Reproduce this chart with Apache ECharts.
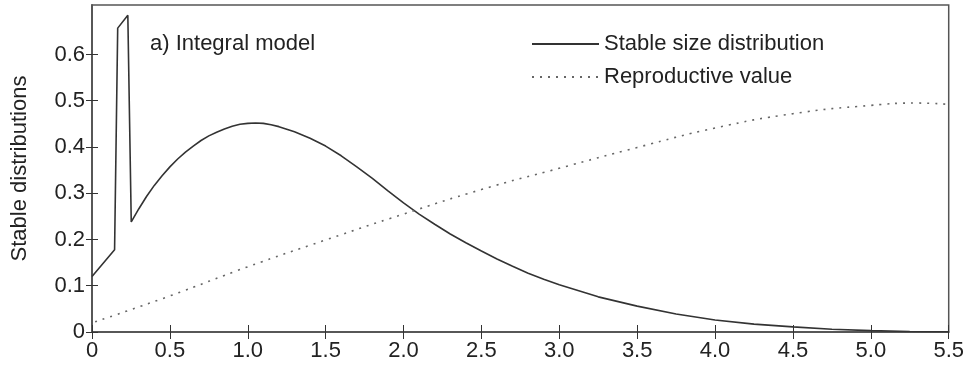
<!DOCTYPE html>
<html><head><meta charset="utf-8">
<script src="https://cdn.jsdelivr.net/npm/echarts@6/dist/echarts.min.js"></script>
<style>html,body{margin:0;padding:0;background:#fff}#c{width:967px;height:365px}</style>
</head><body><div id="c"></div>
<script>
// Stable size distribution (solid)
var sizeX = [0, 0.145, 0.165, 0.23, 0.252, 0.3, 0.35, 0.4, 0.45, 0.5, 0.55, 0.6, 0.65, 0.7, 0.75, 0.8, 0.85, 0.9, 0.95, 1.0, 1.05, 1.1, 1.15, 1.2, 1.3, 1.4, 1.5, 1.6, 1.7, 1.8, 1.9, 2.0, 2.1, 2.2, 2.3, 2.4, 2.5, 2.6, 2.7, 2.8, 2.9, 3.0, 3.25, 3.5, 3.75, 4.0, 4.25, 4.5, 4.75, 5.0, 5.25, 5.5];
var sizeY = [0.12, 0.178, 0.657, 0.685, 0.238, 0.266, 0.293, 0.317, 0.338, 0.357, 0.374, 0.389, 0.402, 0.414, 0.424, 0.432, 0.439, 0.445, 0.449, 0.451, 0.452, 0.451, 0.448, 0.444, 0.433, 0.419, 0.402, 0.381, 0.357, 0.332, 0.305, 0.279, 0.255, 0.233, 0.212, 0.193, 0.175, 0.158, 0.142, 0.127, 0.114, 0.102, 0.076, 0.056, 0.039, 0.026, 0.017, 0.011, 0.006, 0.003, 0.001, 0.0005];
// Reproductive value (dotted)
var reproX = [0.02, 0.5, 1.0, 1.5, 2.0, 2.5, 3.0, 3.5, 4.0, 4.5, 5.0, 5.3, 5.5];
var reproY = [0.022, 0.078, 0.141, 0.199, 0.255, 0.308, 0.354, 0.399, 0.441, 0.472, 0.49, 0.495, 0.492];
var xTicks = [0, 0.5, 1.0, 1.5, 2.0, 2.5, 3.0, 3.5, 4.0, 4.5, 5.0, 5.5];
var yTicks = [0, 0.1, 0.2, 0.3, 0.4, 0.5, 0.6];
var seriesNames = ['Stable size distribution', 'Reproductive value'];
var panelTitle = 'a) Integral model';
var yTitle = 'Stable distributions';

function pairs(xs, ys){ return xs.map(function(x,i){return [x, ys[i]];}); }
function fmt(v){ return v === 0 ? '0' : v.toFixed(1); }

var axisCol = '#555';
var font = 'Liberation Sans, Arial, sans-serif';
var chart = echarts.init(document.getElementById('c'), null, {renderer:'canvas'});
chart.setOption({
  animation: false,
  backgroundColor: '#fff',
  title: {text: panelTitle, left: 150, top: 33, padding: 0,
    textStyle: {fontSize: 22, fontWeight: 'normal', color: '#222', fontFamily: font}},
  legend: {orient: 'vertical', left: 531, top: 33, padding: 0, itemWidth: 67, itemHeight: 14, itemGap: 11,
    data: seriesNames, itemStyle: {opacity: 0},
    textStyle: {fontSize: 22, color: '#222', fontFamily: font}},
  grid: {left: 92, right: 17, top: 5, bottom: 33, show: true, borderColor: axisCol, borderWidth: 1.5},
  xAxis: [{
    type: 'value', min: 0, max: 5.5, interval: 0.5, position: 'bottom',
    axisLine: {show: true, lineStyle: {color: axisCol, width: 1.5}},
    axisTick: {show: true, inside: true, length: 7, lineStyle: {color: '#333'}, customValues: xTicks},
    axisLabel: {show: true, fontSize: 22, color: '#222', fontFamily: font, margin: 8, formatter: fmt, customValues: xTicks},
    splitLine: {show: false}
  }, {
    type: 'value', min: 0, max: 5.5, interval: 0.5, position: 'top',
    axisLine: {show: true, lineStyle: {color: axisCol, width: 1.5}},
    axisTick: {show: true, inside: true, length: 7, lineStyle: {color: '#333'}, customValues: xTicks},
    axisLabel: {show: false}, splitLine: {show: false}
  }],
  yAxis: [{
    type: 'value', min: 0, max: 0.707, interval: 0.1, position: 'left',
    name: yTitle, nameLocation: 'middle', nameGap: 61,
    nameTextStyle: {fontSize: 22, color: '#222', fontFamily: font},
    axisLine: {show: true, lineStyle: {color: axisCol, width: 1.5}},
    axisTick: {show: true, inside: true, length: 6, lineStyle: {color: '#333'}, customValues: yTicks},
    axisLabel: {show: true, fontSize: 22, color: '#222', fontFamily: font, margin: 7, formatter: fmt, customValues: yTicks},
    splitLine: {show: false}
  }, {
    type: 'value', min: 0, max: 0.707, interval: 0.1, position: 'right',
    axisLine: {show: true, lineStyle: {color: axisCol, width: 1.5}},
    axisTick: {show: true, inside: true, length: 6, lineStyle: {color: '#333'}, customValues: yTicks},
    axisLabel: {show: false}, splitLine: {show: false}
  }],
  series: [{
    name: seriesNames[0], type: 'line', xAxisIndex: 0, yAxisIndex: 0,
    data: pairs(sizeX, sizeY), smooth: false, symbol: 'none',
    lineStyle: {color: '#333', width: 1.6, type: 'solid'}, itemStyle: {color: '#333'}
  }, {
    name: seriesNames[1], type: 'line', xAxisIndex: 0, yAxisIndex: 0,
    data: pairs(reproX, reproY), smooth: true, symbol: 'none',
    lineStyle: {color: '#666', width: 1.6, type: [2, 6]}, itemStyle: {color: '#666'}
  }]
});
</script></body></html>
